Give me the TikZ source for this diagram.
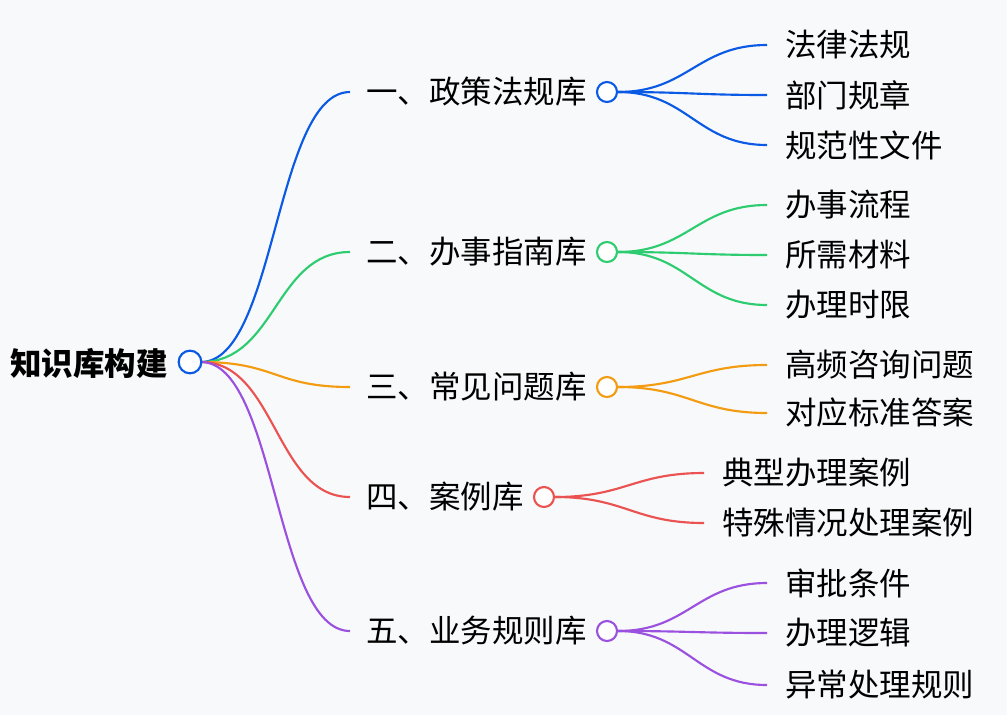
\documentclass[tikz,border=0pt]{standalone}
\usepackage{fontspec}
\setmainfont{Noto Sans CJK SC}
\usepackage{xcolor}
\definecolor{cblue}{RGB}{10,90,230}
\definecolor{cgreen}{RGB}{46,204,113}
\definecolor{corange}{RGB}{243,156,18}
\definecolor{cred}{RGB}{235,82,82}
\definecolor{cpurple}{RGB}{155,81,224}
\definecolor{bg}{RGB}{248,249,250}
\tikzset{
  dot/.style={circle,draw=#1,fill=white,line width=1.6pt,minimum size=15pt,inner sep=0pt},
  lbl/.style={anchor=west,inner sep=0pt,font=\fontsize{23.6}{26}\selectfont},
  wire/.style={draw=#1,line width=1.6pt},
}
\begin{document}
\begin{tikzpicture}[x=0.75pt,y=0.75pt,yscale=-1,xscale=1]
\fill[bg] (0,0) rectangle (1007,715);
% root
\node[lbl,font=\fontsize{23.6}{26}\selectfont\bfseries] (root) at (10,363) {知识库构建};
\coordinate (rs) at (201,362);
% branches
\foreach \name/\y/\cx/\col/\txt in {
  b1/92/607/cblue/一、政策法规库,
  b2/252/607/cgreen/二、办事指南库,
  b3/387/607/corange/三、常见问题库,
  b4/497/544/cred/四、案例库,
  b5/631/607/cpurple/五、业务规则库}{
  \coordinate (\name s) at (350,\y);
  \node[lbl] (\name) at (366,\y) {\txt};
  \draw[wire=\col] (rs) .. controls +(75,0) and +(-75,0) .. (\name s);
  \node[dot=\col] (\name c) at (\cx,\y) {};
}
\node[dot=cblue,minimum size=17pt] (r) at (190,362) {};
% leaves
\foreach \pa/\lx/\y/\col/\txt in {
  b1/785/45/cblue/法律法规, b1/785/95/cblue/部门规章, b1/785/145/cblue/规范性文件,
  b2/785/205/cgreen/办事流程, b2/785/255/cgreen/所需材料, b2/785/305/cgreen/办理时限,
  b3/785/365/corange/高频咨询问题, b3/785/413/corange/对应标准答案,
  b4/722/473/cred/典型办理案例, b4/722/523/cred/特殊情况处理案例,
  b5/785/583/cpurple/审批条件, b5/785/633/cpurple/办理逻辑, b5/785/685/cpurple/异常处理规则}{
  \node[lbl] (leaf) at (\lx,\y) {\txt};
  \coordinate (end) at (\lx-18,\y);
  \draw[wire=\col] (\pa c.east) .. controls +(70,0) and +(-70,0) .. (end);
}
\end{tikzpicture}
\end{document}
